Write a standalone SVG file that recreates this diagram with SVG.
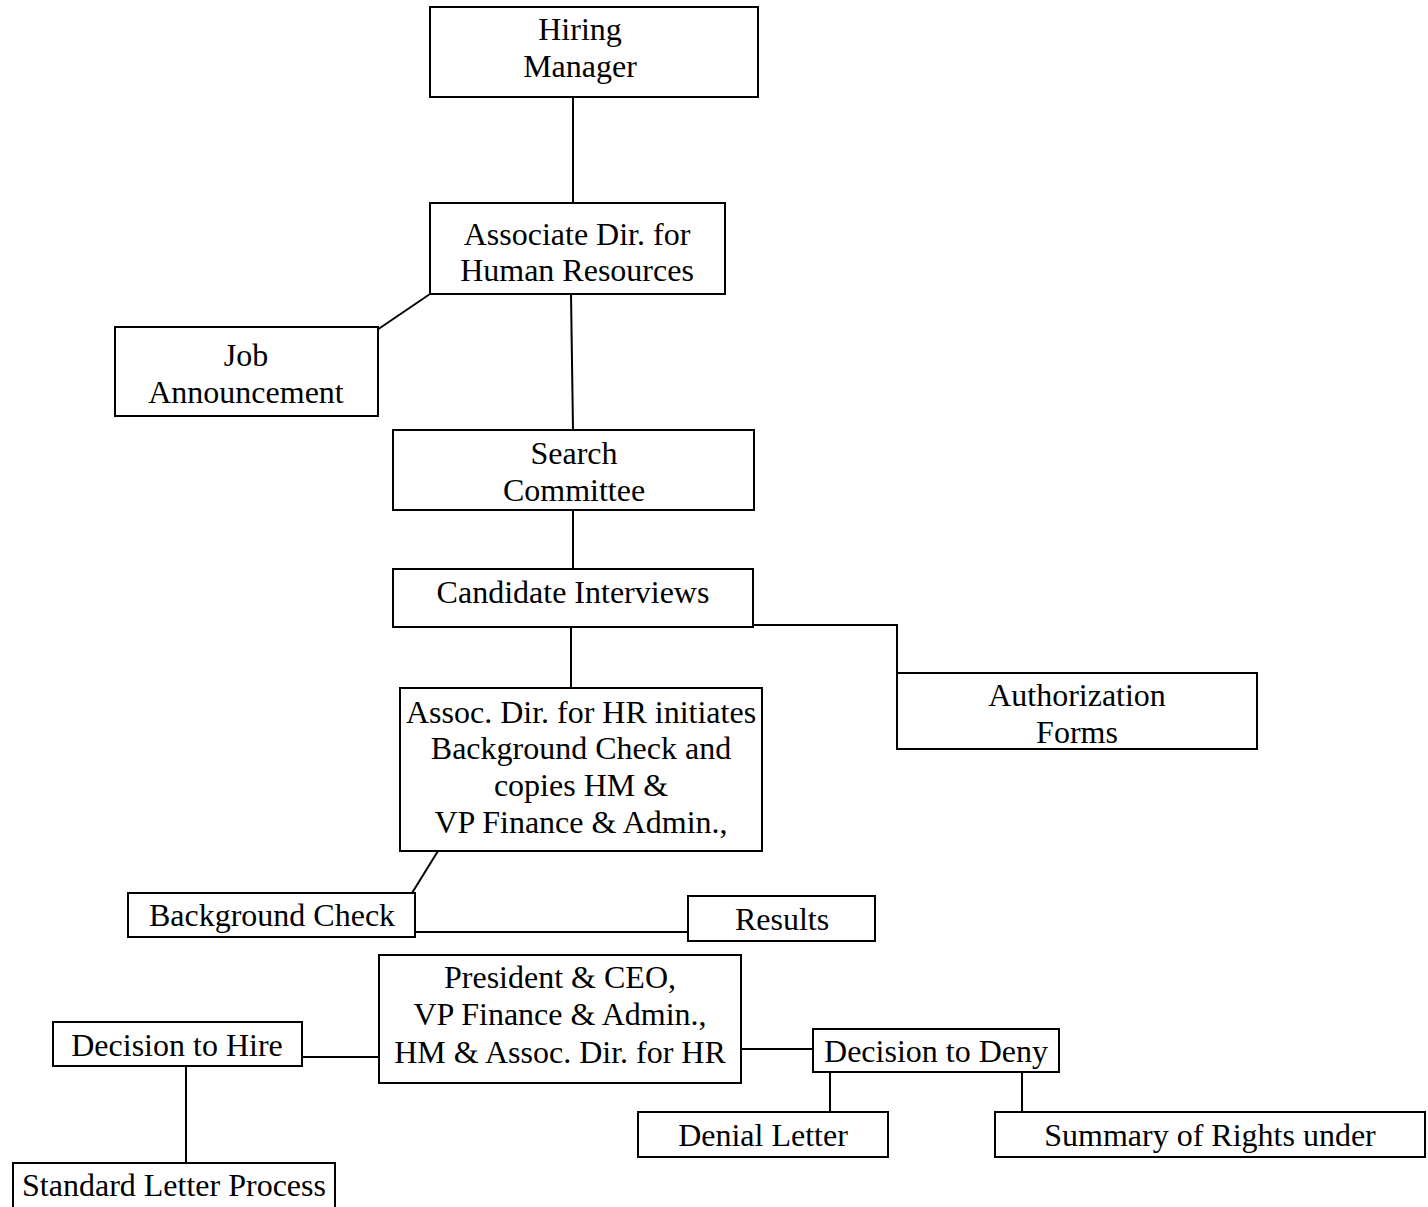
<svg xmlns="http://www.w3.org/2000/svg" width="1428" height="1207" viewBox="0 0 1428 1207">
<style>
.box{fill:#fff;stroke:#000;stroke-width:2}
.t{font-family:"Liberation Serif","Times New Roman",serif;font-size:32px;fill:#000;text-anchor:middle}
.c{fill:none;stroke:#000;stroke-width:2}
</style>
<rect width="1428" height="1207" fill="#fff"/>
<g id="connectors">
<line class="c" x1="573" y1="97" x2="573" y2="203"/>
<line class="c" x1="430" y1="294" x2="374" y2="332"/>
<line class="c" x1="571" y1="294" x2="573" y2="430"/>
<line class="c" x1="573" y1="510" x2="573" y2="569"/>
<polyline class="c" points="753,625 897,625 897,673"/>
<line class="c" x1="571" y1="627" x2="571" y2="688"/>
<line class="c" x1="438" y1="851" x2="412" y2="893"/>
<line class="c" x1="415" y1="932" x2="688" y2="932"/>
<line class="c" x1="302" y1="1057" x2="379" y2="1057"/>
<line class="c" x1="186" y1="1066" x2="186" y2="1163"/>
<line class="c" x1="741" y1="1049" x2="813" y2="1049"/>
<line class="c" x1="830" y1="1072" x2="830" y2="1112"/>
<line class="c" x1="1022" y1="1072" x2="1022" y2="1112"/>
</g>
<g id="hiring-manager"><rect class="box" x="430" y="7" width="328" height="90"/><text class="t" x="580" y="40">Hiring</text><text class="t" x="580" y="77">Manager</text></g>
<g id="assoc-dir-hr"><rect class="box" x="430" y="203" width="295" height="91"/><text class="t" x="577" y="245">Associate Dir. for</text><text class="t" x="577" y="281">Human Resources</text></g>
<g id="job-announcement"><rect class="box" x="115" y="327" width="263" height="89"/><text class="t" x="246" y="366">Job</text><text class="t" x="246" y="403">Announcement</text></g>
<g id="search-committee"><rect class="box" x="393" y="430" width="361" height="80"/><text class="t" x="574" y="464">Search</text><text class="t" x="574" y="501">Committee</text></g>
<g id="candidate-interviews"><rect class="box" x="393" y="569" width="360" height="58"/><text class="t" x="573" y="603">Candidate Interviews</text></g>
<g id="authorization-forms"><rect class="box" x="897" y="673" width="360" height="76"/><text class="t" x="1077" y="706">Authorization</text><text class="t" x="1077" y="743">Forms</text></g>
<g id="background-initiation"><rect class="box" x="400" y="688" width="362" height="163"/><text class="t" x="581" y="723">Assoc. Dir. for HR initiates</text><text class="t" x="581" y="759">Background Check and</text><text class="t" x="581" y="796">copies HM &amp;</text><text class="t" x="581" y="833">VP Finance &amp; Admin.,</text></g>
<g id="background-check"><rect class="box" x="128" y="893" width="287" height="44"/><text class="t" x="272" y="926">Background Check</text></g>
<g id="results"><rect class="box" x="688" y="896" width="187" height="45"/><text class="t" x="782" y="930">Results</text></g>
<g id="president-ceo"><rect class="box" x="379" y="955" width="362" height="128"/><text class="t" x="560" y="988">President &amp; CEO,</text><text class="t" x="560" y="1025">VP Finance &amp; Admin.,</text><text class="t" x="560" y="1063">HM &amp; Assoc. Dir. for HR</text></g>
<g id="decision-hire"><rect class="box" x="53" y="1022" width="249" height="44"/><text class="t" x="177" y="1056">Decision to Hire</text></g>
<g id="standard-letter"><rect class="box" x="13" y="1163" width="322" height="50"/><text class="t" x="174" y="1196">Standard Letter Process</text></g>
<g id="decision-deny"><rect class="box" x="813" y="1029" width="246" height="43"/><text class="t" x="936" y="1062">Decision to Deny</text></g>
<g id="denial-letter"><rect class="box" x="638" y="1112" width="250" height="45"/><text class="t" x="763" y="1146">Denial Letter</text></g>
<g id="summary-rights"><rect class="box" x="995" y="1112" width="430" height="45"/><text class="t" x="1210" y="1146">Summary of Rights under</text></g>
</svg>
